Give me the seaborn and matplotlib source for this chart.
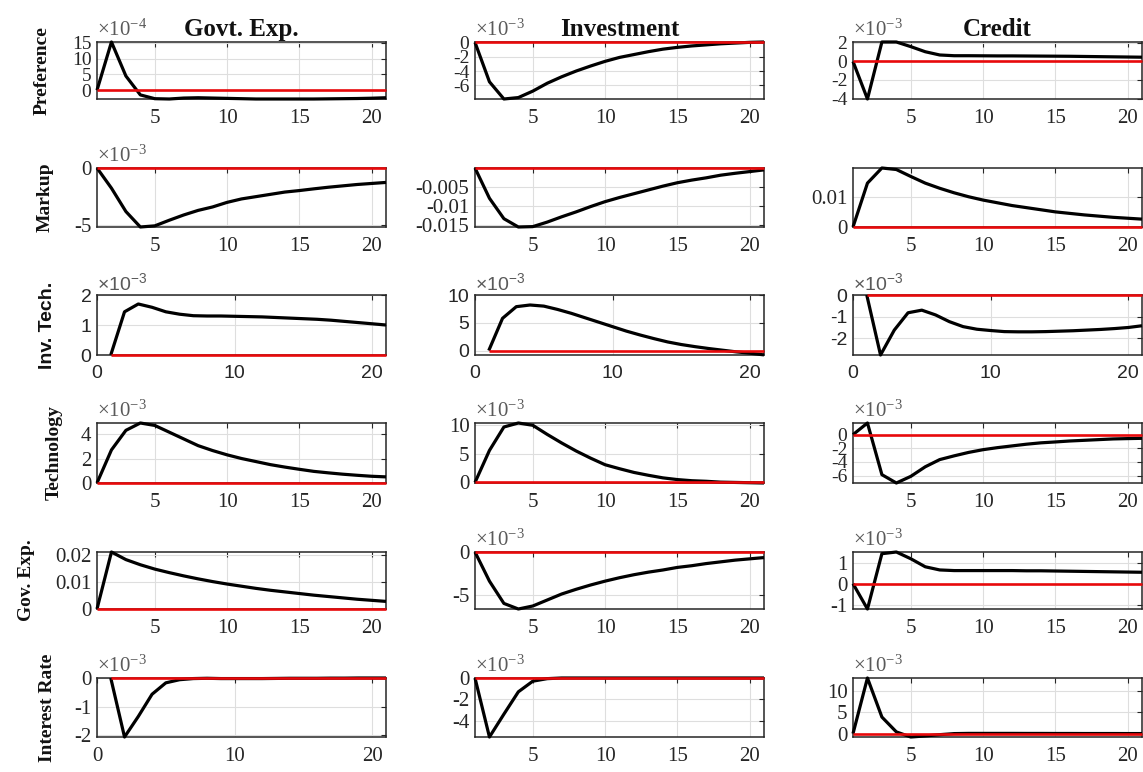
import matplotlib
matplotlib.use("Agg")
import matplotlib.pyplot as plt
import seaborn as sns
import pandas as pd
from matplotlib.ticker import FuncFormatter

# ---------------------------------------------------------------------------
# Impulse responses (periods 1..21). Values are in units of 10^exponent
# where an exponent is given for the panel, otherwise raw.
# ---------------------------------------------------------------------------
periods = list(range(1, 22))

shocks = ["Preference", "Markup", "Inv. Tech.", "Technology", "Gov. Exp.", "Interest Rate"]
variables = ["Govt. Exp.", "Investment", "Credit"]

pref_gov = [0, 15.3, 4.5, -1.5, -2.7, -2.8, -2.5, -2.4, -2.5, -2.6, -2.7, -2.8, -2.8,
            -2.8, -2.8, -2.8, -2.75, -2.7, -2.65, -2.55, -2.4]
pref_inv = [0, -5.5, -7.9, -7.7, -6.8, -5.7, -4.8, -4.0, -3.3, -2.65, -2.1, -1.7, -1.3,
            -0.95, -0.7, -0.5, -0.35, -0.2, -0.1, 0.0, 0.05]
pref_cred = [0, -4.05, 2.1, 2.1, 1.6, 1.05, 0.7, 0.62, 0.62, 0.61, 0.6, 0.6, 0.59, 0.58,
             0.57, 0.56, 0.54, 0.52, 0.5, 0.48, 0.46]

markup_gov = [0, -1.76, -3.8, -5.15, -5.05, -4.56, -4.1, -3.7, -3.4, -3.0, -2.7, -2.5, -2.3,
              -2.1, -1.97, -1.82, -1.68, -1.56, -1.44, -1.35, -1.26]
markup_inv = [0, -0.008, -0.0134, -0.0156, -0.0155, -0.0143, -0.0129, -0.0116, -0.0102,
              -0.0089, -0.0078, -0.0068, -0.0058, -0.0048, -0.0039, -0.0032, -0.0026,
              -0.0019, -0.0014, -0.00095, -0.0005]
markup_cred = [0, 0.0145, 0.0195, 0.019, 0.0167, 0.0145, 0.0128, 0.0113, 0.01, 0.0089, 0.008,
               0.0071, 0.0064, 0.0057, 0.005, 0.0045, 0.004, 0.0036, 0.0032, 0.0029, 0.0026]

invtech_gov = [0, 1.44, 1.7, 1.59, 1.44, 1.36, 1.31, 1.3, 1.3, 1.29, 1.28, 1.27, 1.25, 1.23,
               1.21, 1.19, 1.16, 1.12, 1.08, 1.04, 1.0]
invtech_inv = [0, 5.8, 7.9, 8.2, 8.0, 7.4, 6.7, 5.9, 5.1, 4.3, 3.5, 2.8, 2.15, 1.55, 1.08,
               0.7, 0.36, 0.06, -0.24, -0.48, -0.78]
invtech_cred = [0, -2.77, -1.62, -0.82, -0.7, -0.92, -1.23, -1.46, -1.58, -1.64, -1.69, -1.7,
                -1.7, -1.69, -1.67, -1.65, -1.62, -1.59, -1.55, -1.5, -1.42]

tech_gov = [0, 2.7, 4.3, 4.9, 4.7, 4.15, 3.6, 3.05, 2.65, 2.3, 2.0, 1.75, 1.5, 1.3, 1.12,
            0.95, 0.83, 0.72, 0.63, 0.55, 0.5]
tech_inv = [0, 5.6, 9.7, 10.4, 10.0, 8.4, 6.9, 5.5, 4.25, 3.1, 2.4, 1.75, 1.25, 0.8, 0.5,
            0.3, 0.2, 0.05, 0.0, -0.05, -0.1]
tech_cred = [0, 1.7, -5.85, -7.07, -6.1, -4.7, -3.65, -3.1, -2.6, -2.2, -1.9, -1.65, -1.4,
             -1.2, -1.07, -0.93, -0.83, -0.73, -0.63, -0.58, -0.54]

gov_gov = [0, 0.021, 0.0182, 0.0163, 0.0147, 0.0134, 0.0122, 0.0111, 0.0101, 0.0092, 0.0084,
           0.0076, 0.0069, 0.0063, 0.0057, 0.0051, 0.0046, 0.0041, 0.0036, 0.0032, 0.0028]
gov_inv = [0, -3.4, -6.0, -6.65, -6.3, -5.6, -4.9, -4.35, -3.85, -3.4, -3.0, -2.65, -2.35,
           -2.1, -1.8, -1.6, -1.35, -1.15, -0.95, -0.8, -0.65]
gov_cred = [0, -1.2, 1.42, 1.5, 1.18, 0.8, 0.65, 0.62, 0.62, 0.62, 0.62, 0.62, 0.61, 0.61,
            0.6, 0.59, 0.58, 0.57, 0.56, 0.55, 0.54]

int_gov = [0, -2.07, -1.35, -0.57, -0.17, -0.06, -0.02, -0.01, -0.02, -0.02, -0.02, -0.02,
           -0.015, -0.01, -0.01, -0.01, -0.005, -0.005, 0, 0, 0]
int_inv = [0, -5.55, -3.4, -1.3, -0.3, -0.06, 0, 0, 0, 0, 0, 0, 0, 0, 0, 0, 0, 0, 0, 0, 0]
int_cred = [0, 13.1, 3.9, 0.4, -0.8, -0.55, -0.25, 0, 0.05, 0.05, 0.05, 0.05, 0.04, 0.04,
            0.03, 0.03, 0.02, 0.02, 0.02, 0.01, 0.01]

steady_state = [0.0] * len(periods)

responses = [
    [pref_gov, pref_inv, pref_cred],
    [markup_gov, markup_inv, markup_cred],
    [invtech_gov, invtech_inv, invtech_cred],
    [tech_gov, tech_inv, tech_cred],
    [gov_gov, gov_inv, gov_cred],
    [int_gov, int_inv, int_cred],
]

exponents = [
    [-4, -3, -3],
    [-3, None, None],
    [-3, -3, -3],
    [-3, -3, -3],
    [None, -3, -3],
    [-3, -3, -3],
]

y_limits = [
    [(-2.8, 15.3), (-7.9, 0.05), (-4.05, 2.1)],
    [(-5.15, 0), (-0.0156, 0), (0, 0.0195)],
    [(0, 2), (-0.8, 10), (-2.77, 0)],
    [(0, 4.9), (-0.1, 10.4), (-7.07, 1.7)],
    [(0, 0.021), (-6.65, 0), (-1.2, 1.5)],
    [(-2.07, 0), (-5.55, 0), (-0.8, 13.1)],
]

y_ticks = [
    [[0, 5, 10, 15], [-6, -4, -2, 0], [-4, -2, 0, 2]],
    [[-5, 0], [-0.015, -0.01, -0.005], [0, 0.01]],
    [[0, 1, 2], [0, 5, 10], [-2, -1, 0]],
    [[0, 2, 4], [0, 5, 10], [-6, -4, -2, 0]],
    [[0, 0.01, 0.02], [-5, 0], [-1, 0, 1]],
    [[-2, -1, 0], [-4, -2, 0], [0, 5, 10]],
]

# ---------------------------------------------------------------------------
# Styling
# ---------------------------------------------------------------------------
sns.set_style("white")
plt.rcParams.update({
    "font.family": ["Liberation Serif", "DejaVu Serif"],
    "mathtext.fontset": "custom",
    "mathtext.rm": "Liberation Serif",
    "mathtext.it": "Liberation Serif:italic",
    "mathtext.sf": "Liberation Sans",
    "axes.unicode_minus": False,
})

SERIF = ["Liberation Serif", "DejaVu Serif"]
SANS = ["Liberation Sans", "DejaVu Sans"]
AX_COL = "#262626"
GRID_COL = "#dedede"

W, H = 1143, 772
fig = plt.figure(figsize=(W / 100, H / 100), dpi=100)

col_left = [97, 475, 853]
col_width = 289
row_top = [42, 168, 295, 423, 552, 678]
row_bottom = [99, 227, 355, 483, 609, 737]
label_x = [-0.19, -0.18, -0.17, -0.148, -0.245, -0.17]

fmt = FuncFormatter(lambda v, _: "%g" % v)

for r in range(6):
    for c in range(3):
        rect = [col_left[c] / W, 1 - row_bottom[r] / H, col_width / W,
                (row_bottom[r] - row_top[r]) / H]
        ax = fig.add_axes(rect)
        sans_panel = (r == 2)
        fam = SANS if sans_panel else SERIF
        tick_size = 14 if sans_panel else 15

        df = pd.DataFrame({"period": periods, "response": responses[r][c],
                           "zero": steady_state})
        sns.lineplot(data=df, x="period", y="response", ax=ax, color="black",
                     linewidth=2.3, zorder=3)
        sns.lineplot(data=df, x="period", y="zero", ax=ax, color="#e8090b",
                     linewidth=1.9, zorder=4)
        for ln in ax.lines:
            ln.set_clip_on(False)
            ln.set_solid_capstyle("butt")

        wide_x = (r == 2) or (r == 5 and c == 0)
        if wide_x:
            ax.set_xlim(0, 21)
            ax.set_xticks([0, 10, 20])
        else:
            ax.set_xlim(1, 21)
            ax.set_xticks([5, 10, 15, 20])
        ax.set_ylim(*y_limits[r][c])
        ax.set_yticks(y_ticks[r][c])
        ax.yaxis.set_major_formatter(fmt)
        ax.xaxis.set_major_formatter(fmt)

        ax.set_xlabel("")
        ax.set_ylabel("")
        ax.grid(True, color=GRID_COL, linewidth=0.8)
        ax.set_axisbelow(True)
        for sp in ax.spines.values():
            sp.set_color(AX_COL)
            sp.set_linewidth(1.1)
            sp.set_visible(True)
        ax.tick_params(axis="both", direction="in", length=3.5, width=0.8,
                       top=True, right=True, colors=AX_COL)
        ax.tick_params(axis="x", pad=7, labelsize=tick_size)
        # crowded value axes get slightly smaller labels
        ax.tick_params(axis="y", pad=4,
                       labelsize=tick_size - (1 if len(y_ticks[r][c]) > 3 else 0))
        for lbl in ax.get_xticklabels() + ax.get_yticklabels():
            lbl.set_family(fam)

        exp = exponents[r][c]
        if exp is not None:
            if sans_panel:
                s = r"$\mathsf{\times10^{%d}}$" % exp
            else:
                s = r"$\times10^{%d}$" % exp
            ax.annotate(s, xy=(0, 1), xycoords="axes fraction", xytext=(0, 1),
                        textcoords="offset points", ha="left", va="bottom",
                        fontsize=tick_size, color="#5a5a5a")

        if r == 0:
            ax.set_title(variables[c], fontsize=18, fontweight="bold", pad=4,
                         family=SERIF, color="#111111")
        if c == 0:
            ax.set_ylabel(shocks[r], fontsize=14, fontweight="bold",
                          family=fam, color="#111111", va="center")
            ax.yaxis.set_label_coords(label_x[r], 0.5)

fig.savefig("out.png", dpi=100, facecolor="white")
